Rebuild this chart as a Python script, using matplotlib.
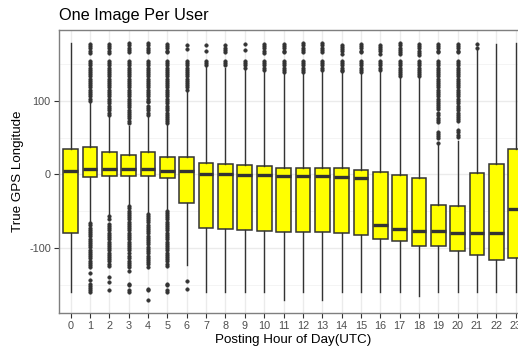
import matplotlib
matplotlib.use("Agg")
import matplotlib.pyplot as plt

plt.rcParams['font.family'] = ['Liberation Sans', 'DejaVu Sans']

hours = list(range(24))
hour_labels = [str(h) for h in hours]

q1 = [-79.3, -4, -2.3, -2.3, -2.7, -5, -38.6, -72, -74.3, -76, -77, -78, -78, -78,
      -78.8, -81.5, -87.9, -90.2, -97.4, -96.5, -104.2, -109.6, -116.4, -114]
med = [4.5, 8, 7.2, 6.8, 7.2, 4.9, 4.5, 0.4, 0, -0.5, -1.4, -1.9, -2.3, -2.3,
       -3.2, -5, -68.9, -74.3, -77, -77, -79.8, -78.8, -78.8, -47]
q3 = [35, 37.5, 31, 26, 31, 24, 23, 16, 14, 12.6, 11.3, 9, 8.2, 9,
      9, 6.3, 3.5, -0.5, -4.6, -42, -43, 2.2, 14, 34.4]
whis_hi = [178, 98, 80, 66, 79, 68, 112, 146, 145, 143, 140, 137, 137, 140,
           139, 137, 140, 133, 133, 40, 46, 169, 177, 178]
whis_lo = [-159, -64, -55, -42, -52, -47, -123, -159, -159, -159, -159, -171, -159, -171,
           -159, -159, -159, -159, -165, -159, -159, -159, -159, -159]

outliers = [
    [],
    [177, 174, 171, 168, 165, 154, 151, 148, 145, 142, 139, 136, 133, 130, 127, 124, 121,
     118, 115, 112, 109, 106, 103, 100,
     -66, -69, -72, -75, -78, -81, -84, -87, -90, -93, -96, -99, -102, -105, -108, -111,
     -114, -117, -120, -123, -126, -134, -143, -148, -151, -154, -157, -159],
    [177, 174, 171, 168, 165, 154, 151, 148, 145, 142, 139, 136, 133, 130, 127, 124, 121,
     118, 115, 112, 109, 106, 103, 100, 97, 93, 90, 87, 84, 81,
     -57, -60, -67, -70, -73, -76, -79, -82, -85, -88, -91, -94, -97, -100, -103, -106,
     -109, -112, -115, -118, -121, -124, -139, -146, -157],
    [178, 175, 172, 169, 166, 154, 151, 148, 145, 142, 139, 136, 133, 130, 127, 124, 121,
     118, 115, 112, 109, 106, 103, 100, 97, 94, 91, 88, 85, 82, 79, 76, 73, 70,
     -43, -46, -49, -52, -55, -58, -61, -64, -67, -70, -73, -76, -79, -82, -85, -88, -91,
     -94, -97, -100, -103, -106, -111, -114, -117, -120, -123, -125, -131, -148, -150,
     -157, -159],
    [178, 175, 172, 169, 166, 154, 151, 148, 145, 142, 139, 136, 133, 130, 127, 124, 121,
     118, 115, 112, 109, 106, 103, 100, 98, 93, 90, 87, 84, 81,
     -53, -56, -59, -62, -65, -68, -71, -74, -77, -80, -83, -86, -89, -92, -95, -98, -101,
     -104, -107, -110, -113, -116, -119, -122, -125, -155, -157, -171],
    [177, 174, 171, 168, 166, 154, 151, 148, 145, 142, 139, 136, 133, 130, 127, 124, 121,
     118, 115, 112, 109, 106, 103, 100, 97, 93, 90, 87, 84, 81, 78, 75, 72, 70,
     -49, -52, -55, -58, -61, -64, -67, -70, -73, -76, -79, -82, -85, -88, -91, -94, -97,
     -100, -103, -106, -109, -112, -115, -118, -121, -124, -148, -150, -157, -159],
    [176, 170, 154, 151, 148, 145, 142, 139, 136, 133, 130, 127, 124, 121, 118, 115,
     -145, -156],
    [175, 168, 154, 151, 148],
    [176, 172, 169, 166, 154, 151, 148],
    [177, 169, 154, 151, 148, 145],
    [177, 174, 171, 168, 165, 154, 151, 148, 145, 142],
    [177, 174, 171, 168, 166, 154, 151, 148, 145, 142, 139],
    [178, 175, 172, 169, 166, 154, 151, 148, 145, 142, 139],
    [178, 175, 172, 169, 166, 154, 151, 148, 145, 142],
    [176, 173, 170, 167, 164, 154, 151, 148, 145, 142, 140],
    [177, 174, 171, 168, 166, 154, 151, 148, 145, 142, 139],
    [176, 173, 170, 167, 164, 154, 151, 148, 145, 142],
    [178, 175, 172, 169, 166, 163, 154, 151, 148, 145, 142, 139, 136, 134],
    [177, 174, 171, 168, 165, 162, 154, 151, 148, 145, 142, 139, 136, 134],
    [177, 174, 171, 168, 166, 154, 151, 148, 145, 142, 139, 136, 133, 130, 127, 124, 121,
     118, 115, 112, 109, 106, 103, 100, 97, 94, 91, 89, 83, 80, 77, 74, 71,
     58, 55, 52, 49, 42.5],
    [177, 174, 171, 168, 166, 154, 151, 148, 145, 142, 139, 136, 133, 130, 127, 124, 121,
     118, 115, 112, 109, 106, 103, 100, 97, 93, 90, 87, 84, 81, 78, 75, 72, 60, 57, 54, 51],
    [177, 172],
    [],
    [],
]

EDGE = '#333333'
GRID = '#EBEBEB'

fig = plt.figure(figsize=(5.18, 3.49), dpi=100)
W, H = 518, 349
left, right, top, bottom = 59.1, 527.3, 30, 313
ax = fig.add_axes([left / W, 1 - bottom / H, (right - left) / W, (bottom - top) / H])

stats = []
for i in range(len(hours)):
    stats.append(dict(med=med[i], q1=q1[i], q3=q3[i], whislo=whis_lo[i],
                      whishi=whis_hi[i], fliers=outliers[i]))

ax.bxp(stats, positions=hours, widths=0.76, patch_artist=True, showcaps=False,
       boxprops=dict(facecolor='#FFFF00', edgecolor=EDGE, linewidth=1.1),
       medianprops=dict(color=EDGE, linewidth=2.4, solid_capstyle='butt'),
       whiskerprops=dict(color=EDGE, linewidth=1.0),
       flierprops=dict(marker='o', markersize=2.6, markerfacecolor=EDGE,
                       markeredgecolor=EDGE, markeredgewidth=0.3, linestyle='none'),
       zorder=3)

ax.set_xlim(-0.6, 23.6)
ax.set_ylim(-188, 196)
ax.set_xticks(hours)
ax.set_xticklabels(hour_labels)
ax.set_yticks([-100, 0, 100])
ax.set_yticklabels(['-100', '0', '100'])
ax.set_yticks([-150, -50, 50, 150], minor=True)
ax.tick_params(axis='both', which='major', length=3.8, width=0.8, color=EDGE,
               labelcolor='#4D4D4D', labelsize=7.8, pad=2.2)
ax.tick_params(axis='y', which='minor', length=0)
ax.grid(True, which='major', color=GRID, linewidth=1.0, zorder=0)
ax.grid(True, which='minor', axis='y', color='#F2F2F2', linewidth=0.6, zorder=0)
ax.set_axisbelow(True)
for s in ax.spines.values():
    s.set_color('#7F7F7F')
    s.set_linewidth(1.0)

fig.text(left / W, 1 - 20 / H, 'One Image Per User', fontsize=11.7, color='black',
         ha='left', va='baseline')
fig.text(((left + right) / 2) / W, 1 - 343.5 / H, 'Posting Hour of Day(UTC)', fontsize=9.6,
         color='black', ha='center', va='baseline')
fig.text(18 / W, 1 - ((top + bottom) / 2) / H, 'True GPS Longitude', fontsize=9.6,
         color='black', ha='center', va='center', rotation=90)

fig.savefig('out.png', dpi=100)
